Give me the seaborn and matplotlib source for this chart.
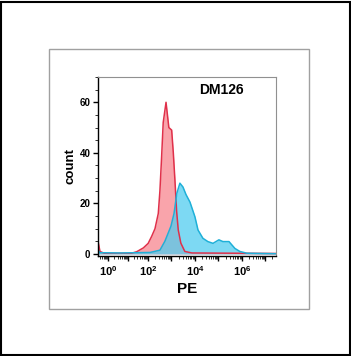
import numpy as np
import pandas as pd
import seaborn as sns
import matplotlib.pyplot as plt
from matplotlib.patches import Rectangle
from matplotlib.ticker import FixedLocator, FuncFormatter, MultipleLocator

# histogram outlines (x as log10 of PE, y as count)
red_log = [-0.5, -0.4, -0.2, 1.19, 1.44, 1.77, 2.01, 2.16, 2.30, 2.44, 2.51, 2.58,
           2.65, 2.77, 2.89, 3.01, 3.08, 3.15, 3.22, 3.29, 3.40, 3.57, 3.87, 7.45]
red_count = [5, 1, 0.3, 0.3, 0.9, 2.4, 4.2, 7, 10, 16, 25, 38,
             52, 60, 50, 49, 40, 29, 17, 9.5, 4.3, 1, 0.4, 0.2]

blue_log = [-0.5, -0.4, 0.6, 2.09, 2.51, 2.72, 2.85, 2.98, 3.11, 3.23, 3.36, 3.49, 3.62,
            3.79, 4.0, 4.13, 4.34, 4.55, 4.77, 5.02, 5.19, 5.45, 5.70, 5.91, 6.21, 7.45]
blue_count = [1.5, 0.5, 0.4, 0.6, 1.5, 5, 8, 11, 16, 24, 28, 26.5, 23.5,
              20.5, 14.7, 9.5, 6.2, 4.9, 4.2, 5.6, 4.9, 4.9, 2.2, 1, 0.3, 0.1]

label_text = "DM126"
x_label = "PE"
y_label = "count"

df = pd.concat([
    pd.DataFrame({"PE": 10.0 ** np.array(red_log), "count": red_count, "sample": "control"}),
    pd.DataFrame({"PE": 10.0 ** np.array(blue_log), "count": blue_count, "sample": "DM126"}),
])

# flow-style axis: log above 10^2, squeezed a bit below
squeeze = 0.85


def fwd(x):
    d = np.log10(np.clip(x, 1e-12, None))
    return np.where(d >= 2, d, 2 - (2 - d) * squeeze)


def inv(u):
    u = np.asarray(u, dtype=float)
    return np.where(u >= 2, 10.0 ** u, 10.0 ** (2 - (2 - u) / squeeze))


sns.set_style("ticks")
plt.rcParams['font.family'] = ['Liberation Sans', 'DejaVu Sans']
plt.rcParams['mathtext.fontset'] = 'custom'
plt.rcParams['mathtext.bf'] = 'Liberation Sans:bold'
plt.rcParams['mathtext.rm'] = 'Liberation Sans'
plt.rcParams['text.color'] = 'black'
plt.rcParams['axes.labelcolor'] = 'black'

fig = plt.figure(figsize=(3.51, 3.56), dpi=100)
fig.patches.append(Rectangle((1 / 351, 1 / 356), 349 / 351, 353 / 356, transform=fig.transFigure,
                             fill=False, edgecolor="black", linewidth=1.5))
fig.patches.append(Rectangle((49 / 351, 47 / 356), 260 / 351, 260 / 356, transform=fig.transFigure,
                             fill=False, edgecolor="#a0a0a0", linewidth=1))

ax = fig.add_axes([98 / 351, 100 / 356, 178 / 351, 179 / 356])
ax.set_xscale("function", functions=(fwd, inv))

colors = {"control": ("#f7868f", "#e0304a"), "DM126": ("#52cdef", "#1fb0d8")}
for name, sub in df.groupby("sample", sort=False):
    fill, line = colors[name]
    ax.fill_between(sub["PE"], sub["count"], color=fill, alpha=0.75, linewidth=0)
for name, sub in df.groupby("sample", sort=False):
    fill, line = colors[name]
    sns.lineplot(data=sub, x="PE", y="count", color=line, linewidth=1.1, ax=ax, sort=False)

ax.set_xlim(10 ** -0.5, 10 ** 7.45)
ax.set_ylim(-0.8, 70)

majors = [10.0 ** k for k in range(0, 8)]
minors = [m * 10.0 ** k for k in range(-1, 8) for m in range(2, 10) if 10 ** -0.5 < m * 10.0 ** k < 10 ** 7.45]
ax.xaxis.set_major_locator(FixedLocator(majors))
ax.xaxis.set_minor_locator(FixedLocator(minors))
ax.xaxis.set_major_formatter(FuncFormatter(
    lambda v, p: r"$\mathbf{10^{%d}}$" % round(np.log10(v)) if round(np.log10(v)) % 2 == 0 and round(np.log10(v)) <= 6 else ""))
ax.yaxis.set_major_locator(FixedLocator([0, 20, 40, 60]))
ax.yaxis.set_minor_locator(MultipleLocator(5))

ax.tick_params(axis="y", which="major", labelsize=7, length=3.5, width=1, pad=2, colors="black")
ax.tick_params(axis="x", which="major", labelsize=8, length=3.5, width=1, pad=2.5, colors="black")
ax.tick_params(axis="both", which="minor", length=2, width=0.7, colors="#333333")
for t in ax.get_xticklabels() + ax.get_yticklabels():
    t.set_fontweight("bold")

ax.set_xlabel(x_label, fontsize=11, fontweight="bold", labelpad=3)
ax.set_ylabel(y_label, fontsize=9.5, fontweight="bold", labelpad=2)

for side in ["left", "bottom"]:
    ax.spines[side].set_color("black")
    ax.spines[side].set_linewidth(1)
for side in ["top", "right"]:
    ax.spines[side].set_visible(True)
    ax.spines[side].set_color("#909090")
    ax.spines[side].set_linewidth(0.8)

ax.text(0.695, 0.925, label_text, transform=ax.transAxes, ha="center", va="center",
        fontsize=10, fontweight="bold")

fig.savefig("out.png", dpi=100)
